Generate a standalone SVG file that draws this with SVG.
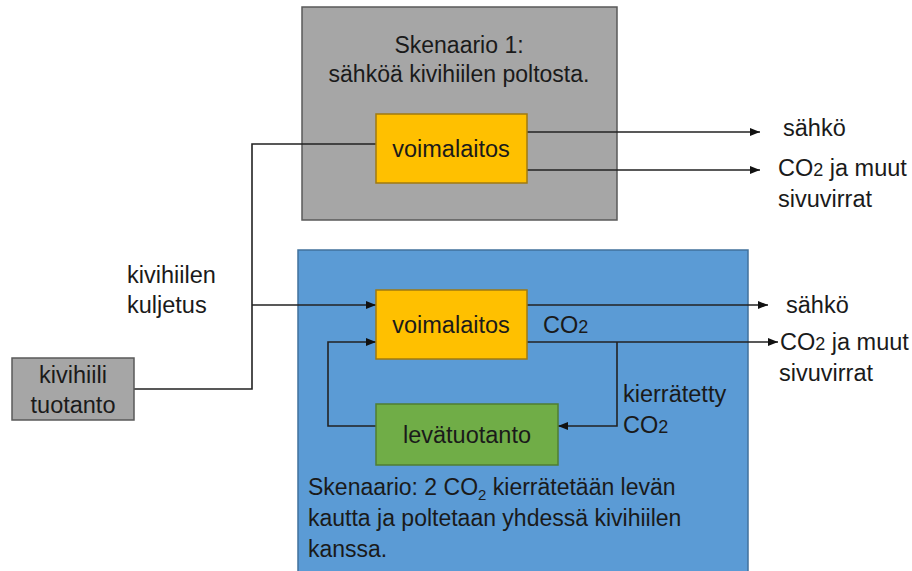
<svg xmlns="http://www.w3.org/2000/svg" width="912" height="571" viewBox="0 0 912 571">
<defs>
<style>
.gray{fill:#a6a6a6;stroke:#595959;stroke-width:1.5}
.blue{fill:#5b9bd5;stroke:#41719c;stroke-width:1.5}
.yel{fill:#ffc000;stroke:#a07a10;stroke-width:1.5}
.grn{fill:#70ad47;stroke:#507e32;stroke-width:1.5}
.c{font-family:"Liberation Sans",Arial,sans-serif;font-size:23.5px;fill:#1a1a1a}
.a{font-family:"Liberation Sans",Arial,sans-serif;font-size:23px;fill:#1a1a1a}
.ln{fill:none;stroke:#222;stroke-width:1.6}
.mid{text-anchor:middle}
</style>
<marker id="ar" markerUnits="userSpaceOnUse" markerWidth="11" markerHeight="10" refX="10" refY="5" orient="auto">
<path d="M0,1 L10,5 L0,9 z" fill="#111"/>
</marker>
</defs>
<rect width="912" height="571" fill="#fff"/>

<g id="scenario1">
<rect class="gray" x="302" y="7" width="315" height="213"/>
<text class="a mid" x="459" y="53">Skenaario 1:</text>
<text class="a mid" x="459" y="82">sähköä kivihiilen poltosta.</text>
</g>

<g id="scenario2">
<rect class="blue" x="298" y="250" width="450" height="330"/>
<text class="a" x="308" y="495">Skenaario: 2 CO<tspan font-size="15" dy="5">2</tspan><tspan dy="-5"> kierrätetään levän</tspan></text>
<text class="a" x="308" y="526">kautta ja poltetaan yhdessä kivihiilen</text>
<text class="a" x="308" y="557">kanssa.</text>
</g>

<g id="connectors">
<polyline class="ln" points="134,389 252,389 252,144 376,144"/>
<polyline class="ln" points="252,305 376,305" marker-end="url(#ar)"/>
<line class="ln" x1="527" y1="132" x2="760" y2="132" marker-end="url(#ar)"/>
<line class="ln" x1="527" y1="170" x2="760" y2="170" marker-end="url(#ar)"/>
<line class="ln" x1="527" y1="305" x2="768" y2="305" marker-end="url(#ar)"/>
<line class="ln" x1="527" y1="342" x2="778" y2="342" marker-end="url(#ar)"/>
<polyline class="ln" points="617,342 617,426 558,426" marker-end="url(#ar)"/>
<polyline class="ln" points="376,426 328,426 328,342 376,342" marker-end="url(#ar)"/>
</g>

<g id="kivihiili">
<rect class="gray" x="12" y="358" width="122" height="62"/>
<text class="c mid" x="73" y="383">kivihiili</text>
<text class="c mid" x="73" y="413">tuotanto</text>
</g>

<g id="voimalaitos1">
<rect class="yel" x="376" y="114" width="151" height="69"/>
<text class="c mid" x="451" y="157">voimalaitos</text>
</g>

<g id="voimalaitos2">
<rect class="yel" x="376" y="290" width="151" height="69"/>
<text class="c mid" x="451" y="333">voimalaitos</text>
</g>

<g id="levatuotanto">
<rect class="grn" x="376" y="404" width="182" height="61"/>
<text class="c mid" x="467" y="443">levätuotanto</text>
</g>

<g id="labels">
<text class="c" x="127" y="283">kivihiilen</text>
<text class="c" x="127" y="313">kuljetus</text>
<text class="c" x="783" y="136">sähkö</text>
<text class="c" x="778" y="176">CO<tspan font-size="18">2</tspan> ja muut</text>
<text class="c" x="778" y="207">sivuvirrat</text>
<text class="c" x="786" y="313">sähkö</text>
<text class="c" x="780" y="350">CO<tspan font-size="18">2</tspan> ja muut</text>
<text class="c" x="779" y="381">sivuvirrat</text>
<text class="c" x="543" y="333">CO<tspan font-size="18">2</tspan></text>
<text class="c" x="623" y="402">kierrätetty</text>
<text class="c" x="623" y="433">CO<tspan font-size="18">2</tspan></text>
</g>
</svg>
